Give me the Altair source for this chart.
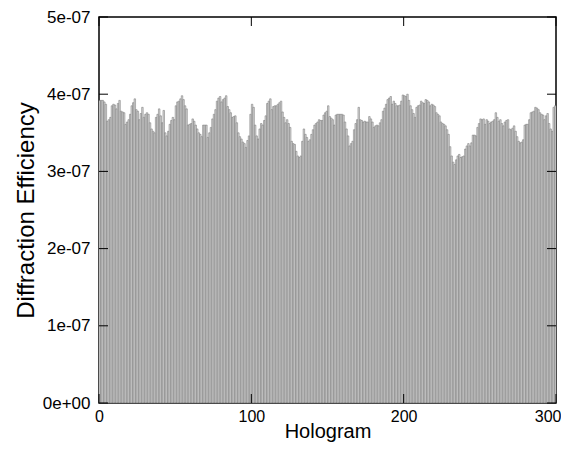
import altair as alt
import pandas as pd

# Diffraction efficiency per hologram, in units of 1e-7
eff_e7 = [
    3.92, 3.92, 3.92, 3.90, 3.87, 3.65, 3.67, 3.70, 3.85, 3.87,
    3.86, 3.81, 3.88, 3.92, 3.78, 3.77, 3.76, 3.61, 3.64, 3.67,
    3.74, 3.85, 3.89, 3.94, 3.80, 3.78, 3.67, 3.75, 3.83, 3.70,
    3.74, 3.76, 3.74, 3.63, 3.55, 3.52, 3.50, 3.70, 3.74, 3.81,
    3.72, 3.63, 3.79, 3.50, 3.46, 3.52, 3.61, 3.66, 3.70, 3.67,
    3.85, 3.90, 3.91, 3.94, 3.98, 3.93, 3.85, 3.81, 3.60, 3.61,
    3.62, 3.68, 3.65, 3.60, 3.55, 3.50, 3.48, 3.45, 3.60, 3.60,
    3.60, 3.44, 3.50, 3.57, 3.68, 3.74, 3.80, 3.91, 3.95, 3.97,
    3.90, 3.93, 3.95, 3.98, 3.84, 3.80, 3.76, 3.70, 3.71, 3.72,
    3.63, 3.50, 3.45, 3.42, 3.38, 3.36, 3.31, 3.40, 3.46, 3.74,
    3.87, 3.83, 3.60, 3.46, 3.42, 3.55, 3.62, 3.60, 3.66, 3.72,
    3.88, 3.91, 3.94, 3.80, 3.84, 3.85, 3.85, 3.87, 3.89, 3.91,
    3.77, 3.70, 3.63, 3.67, 3.62, 3.57, 3.39, 3.36, 3.35, 3.26,
    3.20, 3.18, 3.20, 3.39, 3.55, 3.48, 3.44, 3.39, 3.41, 3.48,
    3.54, 3.60, 3.62, 3.64, 3.67, 3.66, 3.66, 3.73, 3.76, 3.78,
    3.85, 3.71, 3.69, 3.67, 3.60, 3.73, 3.74, 3.74, 3.74, 3.74,
    3.73, 3.64, 3.55, 3.46, 3.33, 3.36, 3.39, 3.54, 3.62, 3.67,
    3.83, 3.67, 3.66, 3.64, 3.65, 3.64, 3.64, 3.71, 3.68, 3.64,
    3.57, 3.59, 3.60, 3.59, 3.63, 3.67, 3.78, 3.82, 3.87, 3.93,
    3.95, 3.97, 3.87, 3.91, 3.88, 3.85, 3.85, 3.86, 3.91, 3.99,
    3.98, 3.97, 4.00, 3.92, 3.85, 3.80, 3.75, 3.70, 3.83, 3.85,
    3.86, 3.91, 3.89, 3.88, 3.93, 3.92, 3.90, 3.85, 3.87, 3.86,
    3.84, 3.76, 3.74, 3.72, 3.64, 3.62, 3.61, 3.59, 3.54, 3.48,
    3.32, 3.20, 3.12, 3.09, 3.15, 3.20, 3.22, 3.18, 3.19, 3.20,
    3.29, 3.33, 3.36, 3.33, 3.37, 3.47, 3.47, 3.46, 3.57, 3.62,
    3.68, 3.67, 3.68, 3.61, 3.67, 3.65, 3.62, 3.64, 3.65, 3.67,
    3.76, 3.70, 3.65, 3.67, 3.62, 3.59, 3.64, 3.66, 3.67, 3.55,
    3.54, 3.56, 3.59, 3.52, 3.45, 3.39, 3.37, 3.38, 3.41, 3.60,
    3.61, 3.61, 3.67, 3.76, 3.77, 3.78, 3.83, 3.82, 3.80, 3.76,
    3.74, 3.73, 3.67, 3.72, 3.75, 3.62, 3.55, 3.52, 3.83, 3.85,
]
x_ticks = [0, 100, 200, 300]
y_ticks = [0, 1e-7, 2e-7, 3e-7, 4e-7, 5e-7]

n = len(eff_e7)
df = pd.DataFrame({
    "start": list(range(n)),
    "end": [i + 1 for i in range(n)],
    "eff": [v * 1e-7 for v in eff_e7],
    "base": [0.0] * n,
})
yt = pd.DataFrame({"eff": y_ticks})
xt = pd.DataFrame({"start": x_ticks})

FONT = "Liberation Sans"
W, H = 457, 386

xscale = alt.Scale(domain=[0, 300], nice=False, zero=False)
yscale = alt.Scale(domain=[0, 5e-7], nice=False)

xaxis = alt.Axis(values=x_ticks, title="Hologram", format="d",
                 grid=False, domain=False, ticks=False,
                 labelFontSize=16, labelFont=FONT, labelColor="black",
                 labelPadding=5, labelFlush=False,
                 labelAlign=alt.expr("datum.value == 300 ? 'right' : 'center'"),
                 labelOffset=alt.expr("datum.value == 300 ? 5 : 0"),
                 titleFontSize=20, titleFont=FONT, titleFontWeight="normal",
                 titleColor="black", titlePadding=-3)
yaxis = alt.Axis(values=y_ticks, title="Diffraction Efficiency",
                 labelExpr="datum.value == 0 ? '0e+00' : format(datum.value*1e7, '.0f') + 'e-07'",
                 grid=False, domain=False, ticks=False,
                 labelFontSize=17, labelFont=FONT, labelColor="black",
                 labelPadding=9,
                 titleFontSize=24, titleFont=FONT, titleFontWeight="normal",
                 titleColor="black", titlePadding=4)

bars = alt.Chart(df).mark_bar(
    fill="#d6d6d6", stroke="#707070", strokeWidth=0.5
).encode(
    x=alt.X("start:Q", scale=xscale, axis=xaxis),
    x2="end:Q",
    y=alt.Y("eff:Q", scale=yscale, axis=yaxis),
    y2="base:Q",
)

ytick_left = alt.Chart(yt).mark_rule(color="black", strokeWidth=1).encode(
    y=alt.Y("eff:Q", scale=yscale, axis=yaxis), x=alt.value(0), x2=alt.value(9)
)
ytick_right = alt.Chart(yt).mark_rule(color="black", strokeWidth=1).encode(
    y=alt.Y("eff:Q", scale=yscale, axis=yaxis), x=alt.value(W - 9), x2=alt.value(W)
)
xtick_top = alt.Chart(xt).mark_rule(color="black", strokeWidth=1).encode(
    x=alt.X("start:Q", scale=xscale, axis=xaxis), y=alt.value(0), y2=alt.value(9)
)
xtick_bot = alt.Chart(xt).mark_rule(color="black", strokeWidth=1).encode(
    x=alt.X("start:Q", scale=xscale, axis=xaxis), y=alt.value(H - 9), y2=alt.value(H)
)

chart = alt.layer(bars, ytick_left, ytick_right, xtick_top, xtick_bot).properties(
    width=W, height=H,
    autosize=alt.AutoSizeParams(type="none"),
    padding={"left": 91, "top": 9, "right": 5, "bottom": 40},
).configure(
    background="white",
    view=alt.ViewConfig(stroke="black", strokeWidth=1.5, fill="white"),
)

chart.save("out.html", embed_options={"renderer": "svg", "actions": False})
